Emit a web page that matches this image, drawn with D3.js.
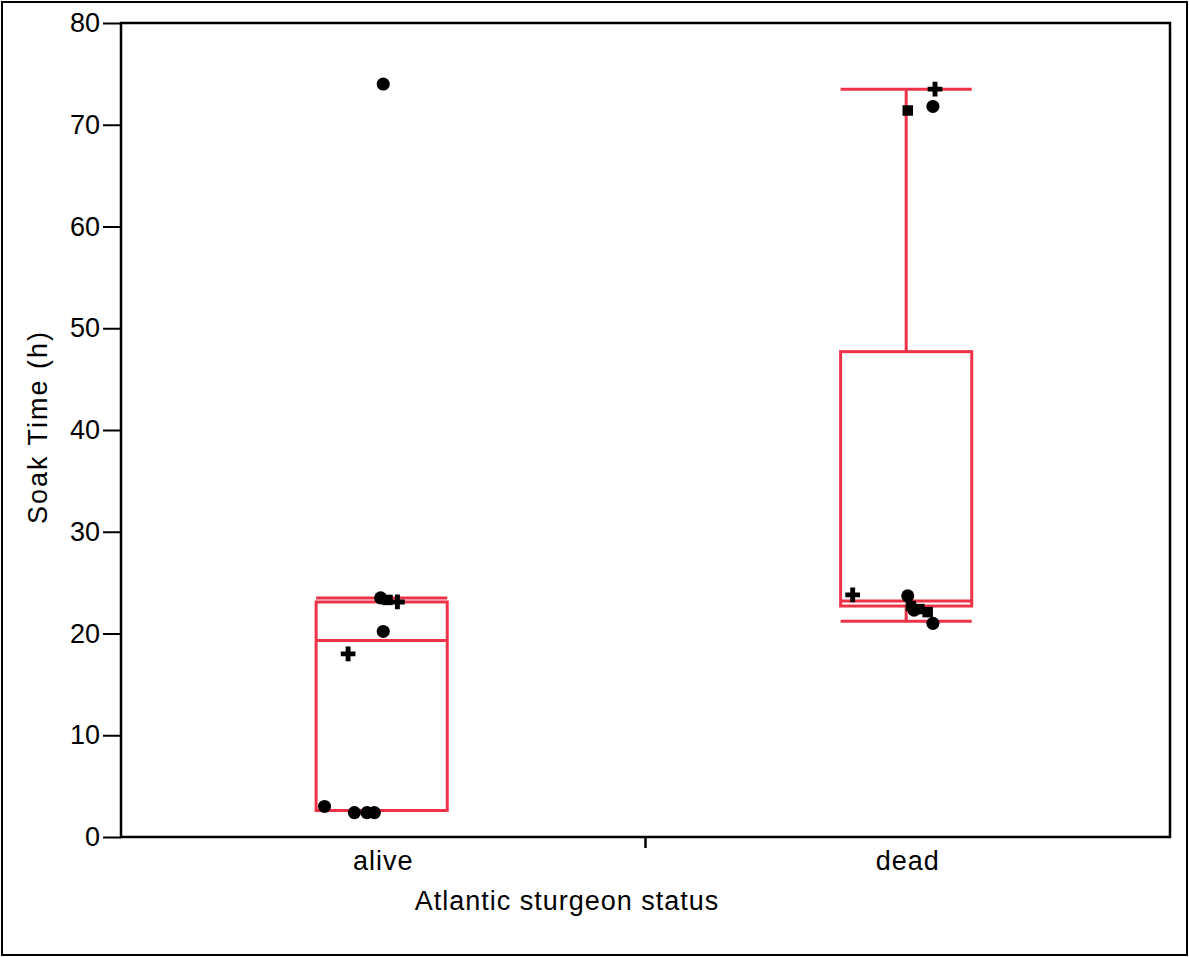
<!DOCTYPE html>
<html>
<head>
<meta charset="utf-8">
<script src="https://cdn.jsdelivr.net/npm/d3@7"></script>
<style>
  body { margin: 0; background: #fff; }
  text { font-family: "Liberation Sans", Arial, sans-serif; }
</style>
</head>
<body>
<svg id="chart" width="1189" height="957"></svg>
<script>
(function () {
    "use strict";

    // categories and y ticks
    var categories = ["alive", "dead"];
    var yTicks = [0, 10, 20, 30, 40, 50, 60, 70, 80];

    // box summaries: [low whisker, q1, median, q3, high whisker]
    var boxAlive = [2.6, 2.6, 19.3, 23.1, 23.5];
    var boxDead = [21.2, 22.7, 23.2, 47.7, 73.5];

    // raw points (soak time, hours) with jitter as fraction of band and marker type
    var aliveValues = [74.0, 23.5, 23.3, 23.1, 20.2, 18.0, 3.0, 2.4, 2.4, 2.4];
    var aliveJitter = [0.0, -0.005, 0.008, 0.027, 0.0, -0.067, -0.112, -0.055, -0.031, -0.017];
    var aliveShape = ["circle", "circle", "square", "cross", "circle", "cross", "circle", "circle", "circle", "circle"];

    var deadValues = [73.5, 71.8, 71.4, 23.8, 23.7, 22.7, 22.4, 22.3, 22.1, 21.0];
    var deadJitter = [0.052, 0.048, 0.0, -0.105, 0.0, 0.006, 0.022, 0.012, 0.038, 0.048];
    var deadShape = ["cross", "circle", "square", "cross", "circle", "square", "square", "circle", "square", "circle"];

    var svg = d3.select("#chart");
    var margin = { left: 121, top: 23, right: 19, bottom: 120 };
    var W = 1189, H = 957;
    var red = "#ee3349";
    var fs = 27;

    // outer frame
    svg.append("rect")
        .attr("x", 2).attr("y", 2)
        .attr("width", W - 4).attr("height", H - 4)
        .attr("fill", "none").attr("stroke", "#000").attr("stroke-width", 2);

    var x = d3.scaleBand()
        .domain(categories)
        .range([margin.left, W - margin.right]);

    var y = d3.scaleLinear()
        .domain([0, 80])
        .range([H - margin.bottom, margin.top]);

    var g = svg.append("g");

    // plot frame
    g.append("rect")
        .attr("x", margin.left).attr("y", margin.top)
        .attr("width", W - margin.right - margin.left)
        .attr("height", y(0) - margin.top)
        .attr("fill", "none").attr("stroke", "#000").attr("stroke-width", 2.5);

    // y axis
    var yAxis = d3.axisLeft(y).tickValues(yTicks).tickSize(18).tickPadding(3);
    var ya = g.append("g")
        .attr("transform", "translate(" + margin.left + ",0)")
        .call(yAxis);
    ya.select(".domain").remove();
    ya.selectAll(".tick line").attr("stroke", "#000").attr("stroke-width", 2);
    ya.selectAll(".tick text")
        .attr("font-size", fs).attr("fill", "#000")
        .style("font-family", '"Liberation Sans", Arial, sans-serif');

    // x axis: only the divider tick between categories
    g.append("line")
        .attr("x1", x("dead")).attr("x2", x("dead"))
        .attr("y1", y(0)).attr("y2", y(0) + 11)
        .attr("stroke", "#000").attr("stroke-width", 2.5);

    g.selectAll("text.cat")
        .data(categories)
      .enter()
        .append("text")
        .classed("cat", true)
        .attr("x", function (d) { return x(d) + x.bandwidth() / 2; })
        .attr("y", y(0) + 33)
        .attr("text-anchor", "middle")
        .attr("font-size", fs)
        .attr("letter-spacing", 1)
        .text(function (d) { return d; });

    // axis titles
    svg.append("text")
        .attr("x", 567).attr("y", 910)
        .attr("text-anchor", "middle")
        .attr("font-size", fs)
        .attr("letter-spacing", 1)
        .text("Atlantic sturgeon status");

    svg.append("text")
        .attr("transform", "translate(47," + (y(40) - 3) + ") rotate(-90)")
        .attr("text-anchor", "middle")
        .attr("font-size", fs)
        .attr("letter-spacing", 2)
        .text("Soak Time (h)");

    // boxes
    var boxes = [
        { cat: "alive", s: boxAlive, off: -0.003 },
        { cat: "dead", s: boxDead, off: -0.003 }
    ];
    var boxW = x.bandwidth() * 0.25;

    boxes.forEach(function (b) {
        var cx = x(b.cat) + x.bandwidth() * (0.5 + b.off);
        var bg = g.append("g")
            .attr("fill", "none").attr("stroke", red).attr("stroke-width", 3);
        // whiskers
        bg.append("line")
            .attr("x1", cx).attr("x2", cx)
            .attr("y1", y(b.s[3])).attr("y2", y(b.s[4]));
        bg.append("line")
            .attr("x1", cx).attr("x2", cx)
            .attr("y1", y(b.s[0])).attr("y2", y(b.s[1]));
        // caps
        [b.s[0], b.s[4]].forEach(function (v) {
            bg.append("line")
                .attr("x1", cx - boxW / 2).attr("x2", cx + boxW / 2)
                .attr("y1", y(v)).attr("y2", y(v));
        });
        // box
        bg.append("rect")
            .attr("x", cx - boxW / 2).attr("width", boxW)
            .attr("y", y(b.s[3])).attr("height", y(b.s[1]) - y(b.s[3]));
        // median
        bg.append("line")
            .attr("x1", cx - boxW / 2).attr("x2", cx + boxW / 2)
            .attr("y1", y(b.s[2])).attr("y2", y(b.s[2]));
    });

    // points
    var points = [];
    aliveValues.forEach(function (v, i) {
        points.push({ cat: "alive", v: v, j: aliveJitter[i], shape: aliveShape[i] });
    });
    deadValues.forEach(function (v, i) {
        points.push({ cat: "dead", v: v, j: deadJitter[i], shape: deadShape[i] });
    });

    var shapes = { circle: d3.symbolCircle, square: d3.symbolSquare, cross: d3.symbolCross };

    g.selectAll("path.pt")
        .data(points)
      .enter()
        .append("path")
        .classed("pt", true)
        .attr("transform", function (d) {
            return "translate(" + (x(d.cat) + x.bandwidth() * (0.5 + d.j)) + "," + y(d.v) + ")";
        })
        .attr("d", function (d) {
            var size = d.shape === "circle" ? 135 : (d.shape === "square" ? 110 : 120);
            return d3.symbol().type(shapes[d.shape]).size(size)();
        })
        .attr("fill", "#000");
})();
</script>
</body>
</html>
